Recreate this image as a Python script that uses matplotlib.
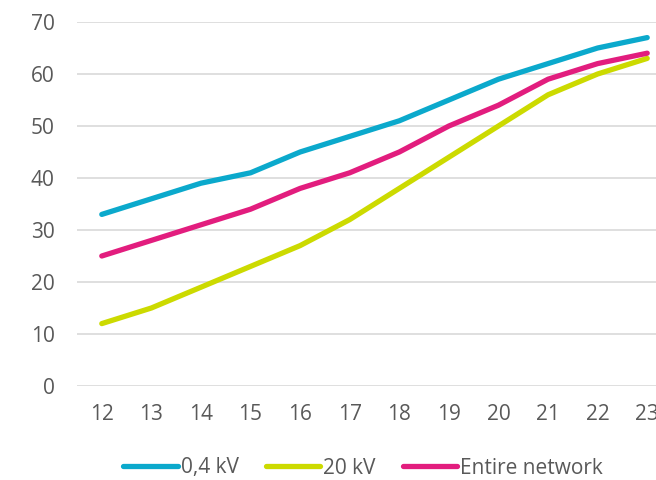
import matplotlib
matplotlib.use('Agg')
import matplotlib.pyplot as plt

# Datos
horas = [12, 13, 14, 15, 16, 17, 18, 19, 20, 21, 22, 23]
kv_04 = [33, 36, 39, 41, 45, 48, 51, 55, 59, 62, 65, 67]
kv_20 = [12, 15, 19, 23, 27, 32, 38, 44, 50, 56, 60, 63]
red_total = [25, 28, 31, 34, 38, 41, 45, 50, 54, 59, 62, 64]

series = [
    ("0,4 kV", kv_04, "#0BA9CC"),
    ("20 kV", kv_20, "#CCDA00"),
    ("Entire network", red_total, "#E21D7E"),
]

plt.rcParams['font.family'] = ['Open Sans', 'DejaVu Sans']

fig = plt.figure(figsize=(6.56, 4.8), dpi=100)
# los ejes se salen un poco por la derecha, como en el original
ax = fig.add_axes([77 / 656, 94 / 480, 595 / 656, 364 / 480])

for nombre, valores, color in series:
    ax.plot(horas, valores, color=color, linewidth=3.8, label=nombre,
            solid_capstyle='round', solid_joinstyle='round', zorder=3)

ax.set_xlim(11.5, 23.5)
ax.set_ylim(0, 70)
ax.set_yticks(range(0, 71, 10))
ax.set_xticks(horas)
ax.grid(axis='y', color='#D9D9D9', linewidth=1.2)
ax.set_axisbelow(True)
for s in ax.spines.values():
    s.set_visible(False)
ax.tick_params(length=0, labelsize=15, colors='#595959')
ax.tick_params(axis='y', pad=16)
ax.tick_params(axis='x', pad=13)

fig.legend(loc='center', bbox_to_anchor=(363 / 656, 1 - 468 / 480), ncol=3,
           frameon=False, fontsize=15, handlelength=2.6, handletextpad=0.15,
           columnspacing=1.3, labelcolor='#595959')

fig.savefig('out.png', dpi=100)
